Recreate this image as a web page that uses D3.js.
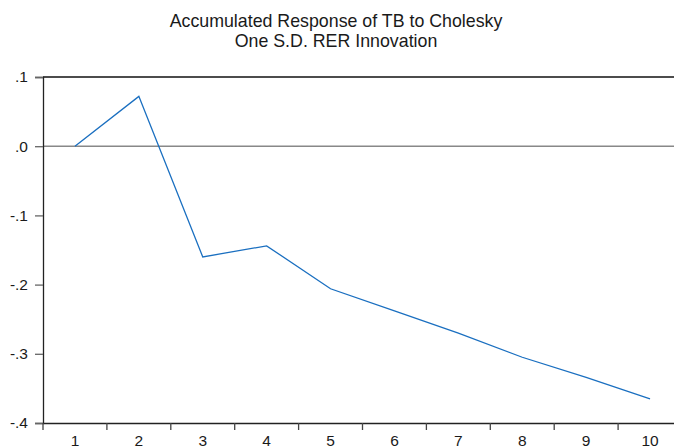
<!DOCTYPE html>
<html>
<head>
<meta charset="utf-8">
<script src="https://cdn.jsdelivr.net/npm/d3@7"></script>
<style>
html,body{margin:0;padding:0;background:#fff;}
svg{display:block;font-family:"Liberation Sans",Arial,sans-serif;}
</style>
</head>
<body>
<svg id="chart" width="674" height="448"></svg>
<script>
const titleLines = ["Accumulated Response of TB to Cholesky", "One S.D. RER Innovation"];
const periods = [1, 2, 3, 4, 5, 6, 7, 8, 9, 10];
const response = [0.000, 0.072, -0.160, -0.144, -0.206, -0.238, -0.270, -0.305, -0.334, -0.365];
const yTicks = [0.1, 0.0, -0.1, -0.2, -0.3, -0.4];
const yTickLabels = [".1", ".0", "-.1", "-.2", "-.3", "-.4"];

(function () {
const svg = d3.select("#chart");
const mLeft = 43, mRight = 682, mTop = 77, mBottom = 423;

const x = d3.scaleBand().domain(periods).range([mLeft, mRight]);
const y = d3.scaleLinear().domain([-0.4, 0.1]).range([mBottom, mTop]);

// title
svg.append("g").selectAll("text").data(titleLines).join("text")
  .attr("x", 336).attr("y", (d, i) => 27 + i * 20)
  .attr("text-anchor", "middle")
  .attr("font-size", 17.8)
  .attr("fill", "#1a1a1a")
  .text(d => d);

// top frame
svg.append("line").attr("x1", mLeft).attr("x2", 674).attr("y1", y(0.1)).attr("y2", y(0.1))
  .attr("stroke", "#111").attr("stroke-width", 1.3);

// zero line
svg.append("line").attr("x1", mLeft).attr("x2", 674).attr("y1", y(0)).attr("y2", y(0))
  .attr("stroke", "#888").attr("stroke-width", 1.4);

// y axis
const yAxis = d3.axisLeft(y).tickValues(yTicks)
  .tickFormat((d, i) => yTickLabels[i]).tickSize(8).tickPadding(7);
const gy = svg.append("g").attr("transform", `translate(${mLeft},0)`).call(yAxis);
gy.select(".domain").attr("stroke", "#222").attr("stroke-width", 1.3);
gy.selectAll(".tick line").attr("stroke", "#666").attr("stroke-width", 1.3);
gy.selectAll("text").attr("font-size", 15.5).attr("fill", "#1a1a1a")
  .attr("font-family", "Liberation Sans, Arial, sans-serif");

// x axis: ticks at band boundaries
const xAxis = d3.axisBottom(x).tickSize(0).tickPadding(12);
const gx = svg.append("g").attr("transform", `translate(0,${mBottom})`).call(xAxis);
gx.select(".domain").attr("stroke", "#222").attr("stroke-width", 1.3);
gx.selectAll("text").attr("font-size", 15.5).attr("fill", "#1a1a1a")
  .attr("font-family", "Liberation Sans, Arial, sans-serif");
gx.selectAll(".bnd").data(periods).join("line")
  .attr("class", "bnd")
  .attr("x1", d => x(d)).attr("x2", d => x(d))
  .attr("y1", 0).attr("y2", 7)
  .attr("stroke", "#444").attr("stroke-width", 1.3);

// response line
const line = d3.line().x((d, i) => x(periods[i]) + x.bandwidth() / 2).y(d => y(d));
svg.append("path").datum(response)
  .attr("d", line)
  .attr("fill", "none")
  .attr("stroke", "#1A6FC0")
  .attr("stroke-width", 1.3);
})();
</script>
</body>
</html>
